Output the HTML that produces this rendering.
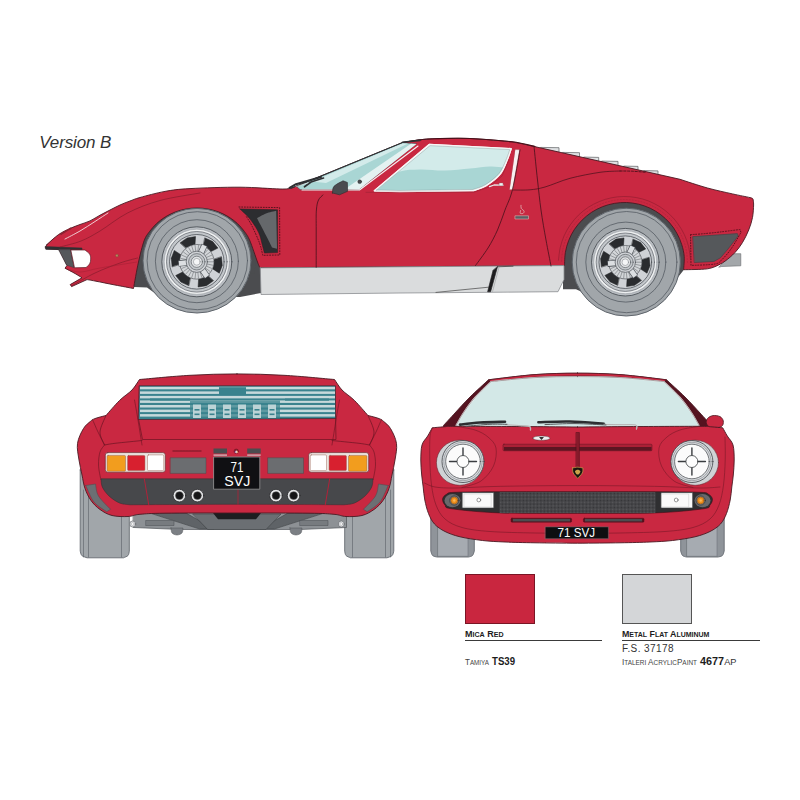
<!DOCTYPE html>
<html><head><meta charset="utf-8">
<style>
html,body{margin:0;padding:0;background:#fff;}
body{width:800px;height:800px;overflow:hidden;position:relative;font-family:"Liberation Sans",sans-serif;}
svg{position:absolute;left:0;top:0;display:block}
text{font-family:"Liberation Sans",sans-serif;}
</style></head><body>
<svg width="800" height="800" viewBox="0 0 800 800">
<defs><pattern id="mesh" width="1.1" height="1.1" patternUnits="userSpaceOnUse" patternTransform="rotate(45)"><rect width="1.1" height="1.1" fill="#58585b"/><rect width="0.55" height="0.55" fill="#343437"/><rect x="0.55" y="0.55" width="0.55" height="0.55" fill="#343437"/></pattern></defs>
<rect width="800" height="800" fill="#fff"/>
<g id="side" stroke-linejoin="round" stroke-linecap="round">
<polygon points="563,262 570,225 600,200 650,200 683,225 686,262 684.5,269 660,300 600,300 576,289.3 563,289.3" fill="#4b4c4f" stroke="none" stroke-width="1" />
<polygon points="685.2,268.9 685.4,259.6 684.3,250.4 681.8,241.5 677.9,233.1 672.9,225.3 666.7,218.4 659.5,212.6 651.6,207.8 643,204.4 634,202.2 624.7,201.5 615.5,202.2 606.5,204.2 597.8,207.6 589.8,212.3 582.6,218.1 576.4,225 571.3,232.7 567.4,241.1 564.8,250 563.6,259.2 563.8,268.4 565.4,277.6 568.3,286.3" fill="#4b4c4f" stroke="none" stroke-width="1" />
<polygon points="134,262 150,225 250,225 262,262 261,293 240,297 160,297 147,287.5 134,287" fill="#4b4c4f" stroke="none" stroke-width="1" />
<polygon points="254.2,273.4 255.4,265.4 255.3,257.2 253.9,249.2 251.2,241.4 247.4,234.1 242.5,227.4 236.5,221.4 229.7,216.4 222.2,212.4 214.1,209.4 205.6,207.6 197,207 188.4,207.6 179.9,209.4 171.8,212.4 164.3,216.4 157.5,221.4 151.5,227.4 146.6,234.1 142.8,241.4 140.1,249.2 138.7,257.2 138.6,265.4 139.8,273.4" fill="#4b4c4f" stroke="none" stroke-width="1" />
<polygon points="719,267 731,255 734,253.7 740.8,253.7 740.8,265.8 722,266.5" fill="#a3a7aa" stroke="#666a6d" stroke-width="0.6" />
<polygon points="541,147.4 559,147.7 559,152.8 541,148.7" fill="#dfe1e3" stroke="#5a5d60" stroke-width="0.7" />
<polygon points="563,152.4 579.5,152.7 579.5,157.4 563,153.7" fill="#dfe1e3" stroke="#5a5d60" stroke-width="0.7" />
<polygon points="584,157.1 598.7,157.4 598.7,161.7 584,158.4" fill="#dfe1e3" stroke="#5a5d60" stroke-width="0.7" />
<polygon points="602,161.1 618,161.4 618,166.1 602,162.4" fill="#dfe1e3" stroke="#5a5d60" stroke-width="0.7" />
<polygon points="624,166.1 638,166.4 638,170.6 624,167.4" fill="#dfe1e3" stroke="#5a5d60" stroke-width="0.7" />
<polygon points="644,170.6 658,170.9 658,175.1 644,171.9" fill="#dfe1e3" stroke="#5a5d60" stroke-width="0.7" />
<path d="M47 244.5C48.9 242.8 54.7 237.3 58.5 234.6C62.3 231.9 66.4 230.2 70 228.5C73.6 226.8 76.7 225.8 80 224.5C83.3 223.2 86.7 222.5 90 220.9C93.3 219.3 96.7 217 100 215.2C103.3 213.4 106.7 211.7 110 210C113.3 208.3 116.7 206.5 120 205C123.3 203.5 126.7 202.2 130 201C133.3 199.8 134.2 199.1 140 197.5C145.8 195.9 156.7 192.9 165 191.4C173.3 189.9 177.5 189.3 190 188.6C202.5 187.9 225 187.1 240 187.2C255 187.3 271.5 188.8 280 189C288.5 189.2 289.2 188.4 291 188.3L402.5 142.5C405.4 142.1 414.6 140.4 420 139.8C425.4 139.2 426.7 138.9 435 138.7C443.3 138.5 457.2 138 470 138.5C482.8 139 505 141.2 512 141.8L520 143.3L680 179.3C684.6 180.8 698.8 185.6 707.5 188C716.2 190.4 725.4 192.3 732.5 193.9C739.6 195.5 746.6 196.8 750 197.6C753.4 198.4 752.5 198.8 753 199C753.1 200 753.7 201.9 753.6 205C753.5 208.1 753.3 213.3 752.5 217.5C751.7 221.7 750.4 225.8 748.7 230C747 234.2 744.8 238.8 742.5 242.5C740.2 246.2 737.9 249.4 735 252.5C732.1 255.6 728.2 258.9 725 261.2C721.8 263.5 718.9 264.9 716 266.2C713.1 267.5 711 268.2 707.5 268.8C704 269.4 699 269.4 695 269.5C691 269.6 685.5 269.7 683.6 269.7C683.7 267.5 684.5 260.7 684.2 256.5C683.9 252.3 682.9 248.3 681.7 244.5C680.5 240.6 678.8 236.7 676.8 233.2C674.9 229.6 672.5 226.2 669.8 223.1C667.1 220.1 664.1 217.2 660.8 214.7C657.6 212.3 654 210.1 650.3 208.3C646.7 206.6 642.7 205.2 638.8 204.2C634.8 203.3 630.7 202.7 626.6 202.5C622.5 202.4 618.4 202.7 614.3 203.4C610.3 204.1 606.3 205.2 602.5 206.7C598.7 208.2 595 210.1 591.6 212.3C588.2 214.6 585 217.2 582.1 220.1C579.2 223 576.6 226.2 574.3 229.6C572.1 233 570.2 236.7 568.7 240.5C567.2 244.3 566.1 248.2 565.4 252.3C564.7 256.5 564.6 263.4 564.5 265.6L260 267.8C259.6 266.8 259.2 266.5 257.5 262C255.8 257.5 252 245.8 249.9 240.8C247.7 235.7 246.6 234.5 244.5 231.6C242.4 228.7 240 226 237.4 223.5C234.7 221.1 231.8 218.8 228.7 216.9C225.6 215 222.2 213.4 218.8 212C215.4 210.7 211.7 209.7 208.1 209C204.5 208.3 200.7 208 197 208C193.3 208 189.5 208.3 185.9 209C182.3 209.7 178.6 210.7 175.2 212C171.8 213.4 168.4 215 165.3 216.9C162.2 218.8 159.3 221.1 156.6 223.5C154 226 151.6 228.7 149.5 231.6C147.4 234.5 146 235.7 144.1 240.8C142.3 245.8 140.3 254 138.5 262C136.7 270 134.3 284.1 133.5 288.5C130.4 287.9 121.4 286.2 115 285C108.6 283.8 99.7 281.9 95 281C90.3 280.1 88.3 279.8 87 279.6L71.6 286.6L70.2 284.6L82 277.8C80.8 277.1 77.8 275.1 75 273.5C72.2 271.9 66.7 269.1 65 268.2L67 265.5L59 249.6L46 249L45.5 247L47 244.5Z" fill="#c92841" stroke="#4a1a22" stroke-width="0.9" />
<path d="M402.5 142.5C405.4 142.1 414.6 140.4 420 139.8C425.4 139.2 426.7 138.9 435 138.7C443.3 138.5 457.2 138 470 138.5C482.8 139 501.2 140.5 512 141.8C522.8 143.1 531.2 145.7 535 146.5" fill="none" stroke="#4a0f19" stroke-width="1.1" />
<polygon points="45.4,246.6 82,248 82,249.8 46,249.3" fill="#2f3033" stroke="#2f3033" stroke-width="0.5" />
<polygon points="58.8,249.6 70.6,249.6 73.9,267.6 66.9,265.2" fill="#55585b" stroke="#3b3d40" stroke-width="0.5" />
<path d="M70.8 250L85 250C85.8 250.7 88.6 252.5 89.6 254C90.5 255.5 90.7 257.3 90.7 259C90.7 260.7 90.4 262.6 89.6 264C88.8 265.4 86.6 266.9 86 267.5L74.5 267.8L70.8 250Z" fill="#fff" stroke="#5b1a24" stroke-width="0.7" />
<path d="M65 239C67.5 237.7 75 233.9 80 231C85 228.1 90.3 224.5 95 221.5C99.7 218.5 105.8 214.4 108 213" fill="none" stroke="#f4dfe2" stroke-width="0.9" />
<path d="M60 247C63.5 246 74.3 243.7 81 241C87.7 238.3 92.2 235.7 100 231C107.8 226.3 117.5 218.1 127.5 213C137.5 207.9 147.9 203.8 160 200.5C172.1 197.2 193.3 194.2 200 193" fill="none" stroke="#7c1a29" stroke-width="0.6" />
<path d="M61 234.3C61.8 233.8 64.3 232 66 231C67.7 230 70.2 228.8 71 228.3" fill="none" stroke="#8b2332" stroke-width="1.6" />
<path d="M71.5 286C75.4 283.8 86.9 276.8 95 273C103.1 269.2 112.9 265.5 120 263C127.1 260.5 134.6 258.8 137.5 258" fill="none" stroke="#7c1a29" stroke-width="0.6" />
<path d="M66 268.5C68.3 269.1 74.3 272.1 80 272C85.7 271.9 90.5 269.7 100 268C109.5 266.3 130.8 263 137 262" fill="none" stroke="#a01f33" stroke-width="0.5" />
<circle cx="117" cy="255.6" r="1.4" fill="#b98a62" stroke="#7c4a30" stroke-width="0.4" />
<path d="M260.3 267.9L564 265.6L564 279.5L558 291.7L490 292.3L400 293L261 294.5L260.3 267.9Z" fill="#dadcdd" stroke="#8a8d90" stroke-width="0.8" />
<polygon points="497.5,266.8 490.6,291.8 487.6,291.8 493,270.5" fill="#1c1c1e" stroke="#1c1c1e" stroke-width="0.6" />
<polyline points="497.5,266.8 513,266.2" fill="none" stroke="#333" stroke-width="0.7" />
<polyline points="436,292.4 488.5,287.2" fill="none" stroke="#444" stroke-width="0.7" />
<polyline points="499,267.3 492.6,291.4" fill="none" stroke="#9a9da0" stroke-width="0.6" />
<polygon points="300,189.4 296.5,186.6 402.5,142.7 416.5,143.7 359,189.6" fill="#a9d6d4" stroke="#33474a" stroke-width="0.5" />
<polygon points="312,181.5 402.5,143.6 408,143.6 326,183" fill="#d3ebea" stroke="none" stroke-width="1" />
<polygon points="345,189 411,143.7 416.5,143.9 359,189.4" fill="#e4f2f1" stroke="none" stroke-width="1" />
<polyline points="291,188.3 402.5,142.6" fill="none" stroke="#2d3335" stroke-width="1.0" />
<polyline points="402.5,142.3 420,140.4" fill="none" stroke="#2d3335" stroke-width="1.6" />
<polyline points="302,190 359.5,190 418,146" fill="none" stroke="#f3f3f3" stroke-width="1.1" />
<path d="M374.5 190.8L429.3 144.6L511 148.8C510.3 150.7 508.8 155.8 507 160C505.2 164.2 503.5 169.8 500 174C496.5 178.2 490.4 182.8 486 185.5C481.6 188.2 475.6 189.6 473.5 190.4L400 191.4L374.5 190.8Z" fill="#d3ebea" stroke="#f5f5f5" stroke-width="1.6" />
<path d="M386 181C388.3 179.4 394.3 173.4 400 171.5C405.7 169.6 412.5 169.7 420 169.5C427.5 169.3 436.7 170.7 445 170.5C453.3 170.3 462.5 169.2 470 168.5C477.5 167.8 484.4 166.7 490 166.5C495.6 166.3 501.2 167.3 503.5 167.5C502.9 168.6 502.9 171 500 174C497.1 177 490.4 182.9 486 185.5C481.6 188.1 475.6 188.9 473.5 189.6L400 190.6L375.8 190.2L386 181Z" fill="#a9d6d4" stroke="none" stroke-width="0" />
<path d="M374.5 190.8L429.3 144.6L511 148.8C510.3 150.7 508.8 155.8 507 160C505.2 164.2 503.5 169.8 500 174C496.5 178.2 490.4 182.8 486 185.5C481.6 188.2 475.6 189.6 473.5 190.4L400 191.4L374.5 190.8Z" fill="none" stroke="#f6f6f6" stroke-width="1.7" />
<path d="M376.5 190L430 145.6L509.8 149.6C509.2 151.3 507.8 156 506 160C504.2 164 502.4 169.4 499 173.5C495.6 177.6 489.8 181.9 485.5 184.6C481.2 187.3 475.1 188.7 473 189.5L400 190.5L376.5 190Z" fill="none" stroke="#7d8f92" stroke-width="0.4" />
<polygon points="515.3,149.5 519.7,149.8 512.7,189.6 509.6,189.7" fill="#f6f1f1" stroke="#a8505c" stroke-width="0.4" />
<polyline points="366,192.3 474,192.2 489,187 502,176 509,160" fill="none" stroke="#8f1f30" stroke-width="0.5" />
<path d="M332.5 193C332.8 191.9 332.2 188.3 334 186.3C335.8 184.3 341.5 181.7 343 180.8L347.4 182.4L347.6 191.3L339.5 194.8L332.5 193Z" fill="#4a4c50" stroke="#2b2c2f" stroke-width="0.6" />
<circle cx="359.7" cy="181.7" r="1.9" fill="#4a4c50" stroke="#222" stroke-width="0.4" />
<polyline points="289.5,187.8 296,184.2 321,177" fill="none" stroke="#2d2f32" stroke-width="2.0" />
<polyline points="304.5,186.8 311,182 323.5,178" fill="none" stroke="#2d2f32" stroke-width="1.7" />
<polyline points="296,186.5 308,183" fill="none" stroke="#e9e9e9" stroke-width="0.6" />
<path d="M323 195C322.2 195.8 319.6 197.5 318.5 200C317.4 202.5 316.8 205 316.4 210C316 215 316.2 220.4 316.2 230C316.2 239.6 316.2 261.1 316.2 267.3" fill="none" stroke="#45101a" stroke-width="0.8" />
<path d="M520 149.8C518.8 156.4 515 179.5 512.5 189.5C510 199.5 507.5 203.2 505 210C502.5 216.8 500.3 223.7 497.5 230C494.7 236.3 491.7 242.1 488 248C484.3 253.9 477.6 262.6 475.5 265.5" fill="none" stroke="#45101a" stroke-width="0.8" />
<path d="M534 146.2C534.6 151.8 536.3 169.4 537.5 180C538.7 190.6 539.6 200 541 210C542.4 220 544.3 230.7 546 240C547.7 249.3 550.2 261.7 551 266" fill="none" stroke="#45101a" stroke-width="0.8" />
<path d="M513 190C515.8 190 524.7 190.3 530 189.8C535.3 189.3 538.3 188.9 545 187C551.7 185.1 560.8 180.8 570 178.3C579.2 175.9 591.7 173.5 600 172.3C608.3 171.1 616.7 171.2 620 171" fill="none" stroke="#45101a" stroke-width="0.7" />
<path d="M620 171C622 171 627.7 171 632 171.2C636.3 171.4 643.7 172.1 646 172.3" fill="none" stroke="#45101a" stroke-width="0.9" stroke-dasharray="2.2 1.6"/>
<path d="M690.4 259C690.1 257 689.6 250.7 688.6 246.6C687.6 242.6 686.1 238.5 684.4 234.7C682.6 231 680.5 227.3 678 223.9C675.6 220.5 672.8 217.3 669.7 214.4C666.7 211.6 663.3 209 659.8 206.7C656.3 204.5 652.4 202.6 648.6 201C644.7 199.5 640.6 198.3 636.5 197.6C632.4 196.8 628.1 196.5 623.9 196.5C619.7 196.5 615.5 197 611.4 197.8C607.3 198.6 603.2 199.9 599.4 201.5C595.5 203.1 591.7 205.1 588.3 207.3C584.8 209.6 581.4 212.3 578.4 215.2C575.5 218.1 572.7 221.4 570.3 224.8C567.9 228.2 565.8 232 564.1 235.8C562.5 239.6 561.1 243.7 560.2 247.7C559.2 251.8 558.8 258.1 558.5 260.2" fill="none" stroke="#8d1b2d" stroke-width="0.6" />
<path d="M687.5 262.5C687.3 260.5 687.1 254.2 686.3 250.2C685.5 246.2 684.3 242.2 682.7 238.4C681.1 234.6 679.2 230.9 676.9 227.5C674.6 224.1 671.9 220.8 669 218C666.2 215.1 662.9 212.4 659.5 210.1C656.1 207.8 652.4 205.9 648.6 204.3C644.8 202.7 640.8 201.5 636.8 200.7C632.8 199.9 628.6 199.5 624.5 199.5C620.4 199.5 616.2 199.9 612.2 200.7C608.2 201.5 604.2 202.7 600.4 204.3C596.6 205.9 592.9 207.8 589.5 210.1C586.1 212.4 582.8 215.1 580 218C577.1 220.8 574.4 224.1 572.1 227.5C569.8 230.9 567.9 234.6 566.3 238.4C564.7 242.2 563.5 246.2 562.7 250.2C561.9 254.2 561.7 260.5 561.5 262.5" fill="none" stroke="#a32036" stroke-width="0.5" stroke-dasharray="1.2 1.8"/>
<polyline points="489.5,186.6 494,185 503,185.2" fill="none" stroke="#e6e6e6" stroke-width="1.3" />
<rect x="499.3" y="183" width="3.6" height="2.6" fill="#f2f2f2" stroke="#777" stroke-width="0.3" />
<path d="M521 205.3C521 205.8 520.8 207.6 521.3 208.5C521.8 209.4 523.7 210.2 524 211C524.3 211.8 523.8 212.9 523.2 213.3C522.6 213.7 520.7 213.8 520.3 213.3C519.9 212.8 520.5 211 520.6 210.5" fill="none" stroke="#e3c9c4" stroke-width="0.7" />
<rect x="515.3" y="215.8" width="13.2" height="3.2" fill="#5c5f63" stroke="#e3c9c4" stroke-width="0.5" />
<path d="M240 209L277.5 209.8L277.6 252.6L264.4 253.1C264 251.8 263.3 248.4 262.3 245C261.3 241.6 260.7 236.8 258.6 232.5C256.6 228.2 253.1 222.9 250 219C246.9 215.1 241.7 210.7 240 209Z" fill="#2c2d30" stroke="#222" stroke-width="0.5" />
<path d="M257 218.2C258.5 217.4 262.8 214.7 266 213.5C269.2 212.3 274.5 211.2 276.2 210.8L277 248.8L272 247.4C271.1 245.5 268.2 239.7 266.3 236C264.4 232.3 262.2 228 260.6 225C259.1 222 257.6 219.3 257 218.2Z" fill="#65686b" stroke="none" stroke-width="0" />
<path d="M239 207L279.6 207.6L279.8 255L262.8 255.3C262.2 253.2 261.3 247.9 259.5 243C257.7 238.1 254.2 230.5 252 226C249.8 221.5 247 217.7 246 216" fill="none" stroke="#5d121e" stroke-width="1.0" stroke-dasharray="1 1.7"/>
<polygon points="693,236.6 737.4,233.6 738.2,236 728,249 720.5,257.8 714,261.4 694.5,262.6" fill="#55585b" stroke="#3e4043" stroke-width="0.6" />
<path d="M690.6 234.6C692.2 234.5 695.1 234.4 700 234C704.9 233.6 713.3 232.8 720 232C726.7 231.2 736.7 229.9 740 229.5L741 232.5C739.3 235.2 734.2 244.5 731 249C727.8 253.5 724.7 257 722 259.5C719.3 262 720.2 263 715 264C709.8 265 695 265.2 691 265.4L690.6 235" fill="none" stroke="#5d121e" stroke-width="1.0" stroke-dasharray="1 1.7"/>
<ellipse cx="197" cy="260.7" rx="54" ry="52.3" fill="#a1a6aa" stroke="#5f656c" stroke-width="1.0"/>
<ellipse cx="197.3" cy="260.7" rx="50.2" ry="49" fill="none" stroke="#565c63" stroke-width="0.8"/>
<ellipse cx="196.9" cy="261.2" rx="41.5" ry="41.5" fill="none" stroke="#565c63" stroke-width="0.8"/>
<circle cx="196.8" cy="261.8" r="35" fill="#b9bdc2" stroke="#4d5258" stroke-width="0.9" />
<circle cx="196.8" cy="261.8" r="32.6" fill="#eef0f1" stroke="#8d9298" stroke-width="0.5" />
<circle cx="196.8" cy="261.8" r="30.3" fill="#c3c7cb" stroke="#5d6268" stroke-width="0.7" />
<circle cx="196.8" cy="261.8" r="27.3" fill="#cfd2d6" stroke="#4d5258" stroke-width="0.8" />
<polygon points="221.5,257 222.3,265.4 219.3,273.2 212.8,268.9 214.1,259.4" fill="#2a2c2f" stroke="#1d1e20" stroke-width="0.5" />
<polygon points="213.3,280.8 206.5,285.7 198.1,287 198.6,279.2 207.6,275.6" fill="#2a2c2f" stroke="#1d1e20" stroke-width="0.5" />
<polygon points="188.6,285.6 180.9,282.1 175.7,275.5 182.6,272.1 190.2,278" fill="#2a2c2f" stroke="#1d1e20" stroke-width="0.5" />
<polygon points="172.1,266.6 171.3,258.2 174.3,250.4 180.8,254.7 179.5,264.2" fill="#2a2c2f" stroke="#1d1e20" stroke-width="0.5" />
<polygon points="180.3,242.8 187.1,237.9 195.5,236.6 195,244.4 186,248" fill="#2a2c2f" stroke="#1d1e20" stroke-width="0.5" />
<polygon points="205,238 212.7,241.5 217.9,248.1 211,251.5 203.4,245.6" fill="#2a2c2f" stroke="#1d1e20" stroke-width="0.5" />
<circle cx="196.8" cy="261.8" r="17.3" fill="#d3d6d9" stroke="#3c4045" stroke-width="0.6" />
<polyline points="207.8,261.8 213.1,261.8" fill="none" stroke="#4a4e53" stroke-width="0.45" />
<polyline points="207.6,264.1 212.7,265.2" fill="none" stroke="#4a4e53" stroke-width="0.45" />
<polyline points="206.8,266.3 211.7,268.4" fill="none" stroke="#4a4e53" stroke-width="0.45" />
<polyline points="205.7,268.3 210,271.4" fill="none" stroke="#4a4e53" stroke-width="0.45" />
<polyline points="204.2,270 207.7,273.9" fill="none" stroke="#4a4e53" stroke-width="0.45" />
<polyline points="202.3,271.3 205,275.9" fill="none" stroke="#4a4e53" stroke-width="0.45" />
<polyline points="200.2,272.3 201.8,277.3" fill="none" stroke="#4a4e53" stroke-width="0.45" />
<polyline points="197.9,272.7 198.5,278" fill="none" stroke="#4a4e53" stroke-width="0.45" />
<polyline points="195.7,272.7 195.1,278" fill="none" stroke="#4a4e53" stroke-width="0.45" />
<polyline points="193.4,272.3 191.8,277.3" fill="none" stroke="#4a4e53" stroke-width="0.45" />
<polyline points="191.3,271.3 188.7,275.9" fill="none" stroke="#4a4e53" stroke-width="0.45" />
<polyline points="189.4,270 185.9,273.9" fill="none" stroke="#4a4e53" stroke-width="0.45" />
<polyline points="187.9,268.3 183.6,271.4" fill="none" stroke="#4a4e53" stroke-width="0.45" />
<polyline points="186.8,266.3 181.9,268.4" fill="none" stroke="#4a4e53" stroke-width="0.45" />
<polyline points="186,264.1 180.9,265.2" fill="none" stroke="#4a4e53" stroke-width="0.45" />
<polyline points="185.8,261.8 180.5,261.8" fill="none" stroke="#4a4e53" stroke-width="0.45" />
<polyline points="186,259.5 180.9,258.4" fill="none" stroke="#4a4e53" stroke-width="0.45" />
<polyline points="186.8,257.3 181.9,255.2" fill="none" stroke="#4a4e53" stroke-width="0.45" />
<polyline points="187.9,255.3 183.6,252.2" fill="none" stroke="#4a4e53" stroke-width="0.45" />
<polyline points="189.4,253.6 185.9,249.7" fill="none" stroke="#4a4e53" stroke-width="0.45" />
<polyline points="191.3,252.3 188.7,247.7" fill="none" stroke="#4a4e53" stroke-width="0.45" />
<polyline points="193.4,251.3 191.8,246.3" fill="none" stroke="#4a4e53" stroke-width="0.45" />
<polyline points="195.7,250.9 195.1,245.6" fill="none" stroke="#4a4e53" stroke-width="0.45" />
<polyline points="197.9,250.9 198.5,245.6" fill="none" stroke="#4a4e53" stroke-width="0.45" />
<polyline points="200.2,251.3 201.8,246.3" fill="none" stroke="#4a4e53" stroke-width="0.45" />
<polyline points="202.3,252.3 205,247.7" fill="none" stroke="#4a4e53" stroke-width="0.45" />
<polyline points="204.2,253.6 207.7,249.7" fill="none" stroke="#4a4e53" stroke-width="0.45" />
<polyline points="205.7,255.3 210,252.2" fill="none" stroke="#4a4e53" stroke-width="0.45" />
<polyline points="206.8,257.3 211.7,255.2" fill="none" stroke="#4a4e53" stroke-width="0.45" />
<polyline points="207.6,259.5 212.7,258.4" fill="none" stroke="#4a4e53" stroke-width="0.45" />
<line x1="196.8" y1="261.8" x2="207.4" y2="277" stroke="#4d5258" stroke-width="6.4" stroke-linecap="butt"/>
<line x1="196.8" y1="261.8" x2="207.1" y2="276.5" stroke="#dcdfe2" stroke-width="5" stroke-linecap="butt"/>
<line x1="196.8" y1="261.8" x2="178.4" y2="263.4" stroke="#4d5258" stroke-width="6.4" stroke-linecap="butt"/>
<line x1="196.8" y1="261.8" x2="178.9" y2="263.4" stroke="#dcdfe2" stroke-width="5" stroke-linecap="butt"/>
<line x1="196.8" y1="261.8" x2="204.6" y2="245" stroke="#4d5258" stroke-width="6.4" stroke-linecap="butt"/>
<line x1="196.8" y1="261.8" x2="204.4" y2="245.5" stroke="#dcdfe2" stroke-width="5" stroke-linecap="butt"/>
<circle cx="196.8" cy="261.8" r="10.6" fill="#d0d3d7" stroke="#4d5258" stroke-width="0.7" />
<circle cx="196.8" cy="261.8" r="8.2" fill="#c2c6ca" stroke="#4d5258" stroke-width="0.6" />
<circle cx="196.8" cy="261.8" r="5.6" fill="#e3e5e7" stroke="#4d5258" stroke-width="0.6" />
<circle cx="196.8" cy="261.8" r="3.4" fill="#f5f6f7" stroke="#777b80" stroke-width="0.5" />
<ellipse cx="626.3" cy="262.1" rx="54.1" ry="53.9" fill="#a1a6aa" stroke="#5f656c" stroke-width="1.0"/>
<ellipse cx="626.6" cy="262.1" rx="50.3" ry="50.6" fill="none" stroke="#565c63" stroke-width="0.8"/>
<ellipse cx="625.8" cy="262.1" rx="40" ry="40" fill="none" stroke="#565c63" stroke-width="0.8"/>
<circle cx="625.3" cy="262.2" r="33.8" fill="#b9bdc2" stroke="#4d5258" stroke-width="0.9" />
<circle cx="625.3" cy="262.2" r="31.5" fill="#eef0f1" stroke="#8d9298" stroke-width="0.5" />
<circle cx="625.3" cy="262.2" r="29.2" fill="#c3c7cb" stroke="#5d6268" stroke-width="0.7" />
<circle cx="625.3" cy="262.2" r="26.3" fill="#cfd2d6" stroke="#4d5258" stroke-width="0.8" />
<polygon points="649.2,257.6 650,265.7 647,273.2 640.7,269.1 642,259.8" fill="#2a2c2f" stroke="#1d1e20" stroke-width="0.5" />
<polygon points="641.3,280.6 634.6,285.3 626.6,286.5 627.1,279 635.7,275.5" fill="#2a2c2f" stroke="#1d1e20" stroke-width="0.5" />
<polygon points="617.4,285.2 610,281.8 604.9,275.4 611.6,272.1 619,277.9" fill="#2a2c2f" stroke="#1d1e20" stroke-width="0.5" />
<polygon points="601.4,266.8 600.6,258.7 603.6,251.2 609.9,255.3 608.6,264.6" fill="#2a2c2f" stroke="#1d1e20" stroke-width="0.5" />
<polygon points="609.3,243.8 616,239.1 624,237.9 623.5,245.4 614.9,248.9" fill="#2a2c2f" stroke="#1d1e20" stroke-width="0.5" />
<polygon points="633.2,239.2 640.6,242.6 645.7,249 639,252.3 631.6,246.5" fill="#2a2c2f" stroke="#1d1e20" stroke-width="0.5" />
<circle cx="625.3" cy="262.2" r="16.7" fill="#d3d6d9" stroke="#3c4045" stroke-width="0.6" />
<polyline points="635.9,262.2 641,262.2" fill="none" stroke="#4a4e53" stroke-width="0.45" />
<polyline points="635.7,264.4 640.7,265.5" fill="none" stroke="#4a4e53" stroke-width="0.45" />
<polyline points="635,266.5 639.7,268.6" fill="none" stroke="#4a4e53" stroke-width="0.45" />
<polyline points="633.9,268.4 638,271.4" fill="none" stroke="#4a4e53" stroke-width="0.45" />
<polyline points="632.4,270.1 635.8,273.9" fill="none" stroke="#4a4e53" stroke-width="0.45" />
<polyline points="630.6,271.4 633.2,275.8" fill="none" stroke="#4a4e53" stroke-width="0.45" />
<polyline points="628.6,272.3 630.2,277.2" fill="none" stroke="#4a4e53" stroke-width="0.45" />
<polyline points="626.4,272.8 626.9,277.8" fill="none" stroke="#4a4e53" stroke-width="0.45" />
<polyline points="624.2,272.8 623.7,277.8" fill="none" stroke="#4a4e53" stroke-width="0.45" />
<polyline points="622,272.3 620.4,277.2" fill="none" stroke="#4a4e53" stroke-width="0.45" />
<polyline points="620,271.4 617.4,275.8" fill="none" stroke="#4a4e53" stroke-width="0.45" />
<polyline points="618.2,270.1 614.8,273.9" fill="none" stroke="#4a4e53" stroke-width="0.45" />
<polyline points="616.7,268.4 612.6,271.4" fill="none" stroke="#4a4e53" stroke-width="0.45" />
<polyline points="615.6,266.5 610.9,268.6" fill="none" stroke="#4a4e53" stroke-width="0.45" />
<polyline points="614.9,264.4 609.9,265.5" fill="none" stroke="#4a4e53" stroke-width="0.45" />
<polyline points="614.7,262.2 609.6,262.2" fill="none" stroke="#4a4e53" stroke-width="0.45" />
<polyline points="614.9,260 609.9,258.9" fill="none" stroke="#4a4e53" stroke-width="0.45" />
<polyline points="615.6,257.9 610.9,255.8" fill="none" stroke="#4a4e53" stroke-width="0.45" />
<polyline points="616.7,256 612.6,253" fill="none" stroke="#4a4e53" stroke-width="0.45" />
<polyline points="618.2,254.3 614.8,250.5" fill="none" stroke="#4a4e53" stroke-width="0.45" />
<polyline points="620,253 617.4,248.6" fill="none" stroke="#4a4e53" stroke-width="0.45" />
<polyline points="622,252.1 620.4,247.2" fill="none" stroke="#4a4e53" stroke-width="0.45" />
<polyline points="624.2,251.6 623.7,246.6" fill="none" stroke="#4a4e53" stroke-width="0.45" />
<polyline points="626.4,251.6 626.9,246.6" fill="none" stroke="#4a4e53" stroke-width="0.45" />
<polyline points="628.6,252.1 630.2,247.2" fill="none" stroke="#4a4e53" stroke-width="0.45" />
<polyline points="630.6,253 633.2,248.6" fill="none" stroke="#4a4e53" stroke-width="0.45" />
<polyline points="632.4,254.3 635.8,250.5" fill="none" stroke="#4a4e53" stroke-width="0.45" />
<polyline points="633.9,256 638,253" fill="none" stroke="#4a4e53" stroke-width="0.45" />
<polyline points="635,257.9 639.7,255.8" fill="none" stroke="#4a4e53" stroke-width="0.45" />
<polyline points="635.7,260 640.7,258.9" fill="none" stroke="#4a4e53" stroke-width="0.45" />
<line x1="625.3" y1="262.2" x2="635.5" y2="276.8" stroke="#4d5258" stroke-width="6.2" stroke-linecap="butt"/>
<line x1="625.3" y1="262.2" x2="635.3" y2="276.4" stroke="#dcdfe2" stroke-width="4.8" stroke-linecap="butt"/>
<line x1="625.3" y1="262.2" x2="607.5" y2="263.8" stroke="#4d5258" stroke-width="6.2" stroke-linecap="butt"/>
<line x1="625.3" y1="262.2" x2="608" y2="263.7" stroke="#dcdfe2" stroke-width="4.8" stroke-linecap="butt"/>
<line x1="625.3" y1="262.2" x2="632.8" y2="246" stroke="#4d5258" stroke-width="6.2" stroke-linecap="butt"/>
<line x1="625.3" y1="262.2" x2="632.6" y2="246.5" stroke="#dcdfe2" stroke-width="4.8" stroke-linecap="butt"/>
<circle cx="625.3" cy="262.2" r="10.2" fill="#d0d3d7" stroke="#4d5258" stroke-width="0.7" />
<circle cx="625.3" cy="262.2" r="7.9" fill="#c2c6ca" stroke="#4d5258" stroke-width="0.6" />
<circle cx="625.3" cy="262.2" r="5.4" fill="#e3e5e7" stroke="#4d5258" stroke-width="0.6" />
<circle cx="625.3" cy="262.2" r="3.3" fill="#f5f6f7" stroke="#777b80" stroke-width="0.5" />
</g>
<g id="rear" stroke-linejoin="round" stroke-linecap="round">
<path d="M80.2 470L129.3 470L129.3 551C129.1 551.8 129 554.4 128 555.5C127 556.6 124.2 557.4 123.5 557.8L87 557.8C86.1 557.4 82.9 556.6 81.8 555.5C80.7 554.4 80.5 551.8 80.2 551L80.2 470Z" fill="#a1a6aa" stroke="#646a71" stroke-width="0.9" />
<path d="M393.8 470L344.7 470L344.7 551C344.9 551.8 345 554.4 346 555.5C347 556.6 349.8 557.4 350.5 557.8L387 557.8C387.9 557.4 391.1 556.6 392.2 555.5C393.3 554.4 393.5 551.8 393.8 551L393.8 470Z" fill="#a1a6aa" stroke="#646a71" stroke-width="0.9" />
<polyline points="83.5,490 83.5,557" fill="none" stroke="#646a71" stroke-width="0.7" />
<polyline points="390.5,490 390.5,557" fill="none" stroke="#646a71" stroke-width="0.7" />
<polyline points="88.5,490 88.5,557" fill="none" stroke="#646a71" stroke-width="0.7" />
<polyline points="385.5,490 385.5,557" fill="none" stroke="#646a71" stroke-width="0.7" />
<polyline points="121.5,490 121.5,557" fill="none" stroke="#646a71" stroke-width="0.7" />
<polyline points="352.5,490 352.5,557" fill="none" stroke="#646a71" stroke-width="0.7" />
<polygon points="133.5,512 346.5,512 346.5,527.5 300,529.5 180,529.5 133.5,527.5" fill="#8d9195" stroke="#4f5358" stroke-width="0.7" />
<path d="M171 528C171.2 528.8 171 531.8 172 533C173 534.2 175.3 535 177 535C178.7 535 181 534.2 182 533C183 531.8 182.8 528.8 183 528L171 528Z" fill="#7b7f84" stroke="#4c5055" stroke-width="0.5" />
<path d="M290 528C290.2 528.8 290 531.8 291 533C292 534.2 294.3 535 296 535C297.7 535 300 534.2 301 533C302 531.8 301.8 528.8 302 528L290 528Z" fill="#7b7f84" stroke="#4c5055" stroke-width="0.5" />
<polygon points="150,513 186,513 214,529 200,529" fill="#5f6367" stroke="#3f4347" stroke-width="0.6" />
<polygon points="324,513 288,513 260,529 274,529" fill="#5f6367" stroke="#3f4347" stroke-width="0.6" />
<polygon points="193,514 281,514 266,529.5 208,529.5" fill="#6b6f73" stroke="#3f4347" stroke-width="0.6" />
<polygon points="213,513 261,513 256,519.2 218,519.2" fill="#1d1e20" stroke="none" stroke-width="1" />
<rect x="146" y="520.5" width="28" height="5" fill="#777b7f" stroke="#4a4e53" stroke-width="0.5" />
<rect x="300" y="520.5" width="28" height="5" fill="#777b7f" stroke="#4a4e53" stroke-width="0.5" />
<circle cx="132.7" cy="524" r="3" fill="#e4e6e8" stroke="#55595e" stroke-width="0.6" />
<circle cx="132.7" cy="524" r="1.5" fill="#f6f6f6" stroke="#8a8e92" stroke-width="0.4" />
<circle cx="341.3" cy="524" r="3" fill="#e4e6e8" stroke="#55595e" stroke-width="0.6" />
<circle cx="341.3" cy="524" r="1.5" fill="#f6f6f6" stroke="#8a8e92" stroke-width="0.4" />
<path d="M237 373.9C221.3 373.9 206.2 374.4 190 375.3C173.8 376.2 147.9 378.8 139.5 379.5C138.2 381.2 135.3 386.5 132 390C128.7 393.5 123.8 396.2 119.5 400.5C115.2 404.8 108.2 413 106 415.5C104.8 415.8 101.1 416.7 99 417.3C96.9 417.9 94.9 418.5 93.5 419.2C92.1 419.9 92.2 419.8 90.5 421.3C88.8 422.9 85.7 424.8 83.5 428.5C81.3 432.2 78.2 438.2 77.5 443.5C76.8 448.8 78.2 454.8 79 460C79.8 465.2 81 470.2 82 475C83 479.8 83.5 484.2 85 488.5C86.5 492.8 88.5 497 91 500.5C93.5 504 96.5 507 100 509.5C103.5 512 107.3 514.3 112 515.5C116.7 516.7 123.3 516.7 128 516.5C132.7 516.3 133.8 514.8 140 514.3C146.2 513.8 148.8 513.4 165 513.2C181.2 513 213 513 237 513C261 513 292.8 513 309 513.2C325.2 513.4 327.8 513.8 334 514.3C340.2 514.8 341.3 516.3 346 516.5C350.7 516.7 357.3 516.7 362 515.5C366.7 514.3 370.5 512 374 509.5C377.5 507 380.5 504 383 500.5C385.5 497 387.5 492.8 389 488.5C390.5 484.2 391 479.8 392 475C393 470.2 394.2 465.2 395 460C395.8 454.8 397.2 448.8 396.5 443.5C395.8 438.2 392.7 432.2 390.5 428.5C388.3 424.8 385.2 422.9 383.5 421.3C381.8 419.8 381.9 419.9 380.5 419.2C379.1 418.5 377.1 417.9 375 417.3C372.9 416.7 369.2 415.8 368 415.5C365.8 413 358.8 404.8 354.5 400.5C350.2 396.2 345.3 393.5 342 390C338.7 386.5 335.8 381.2 334.5 379.5C326.1 378.8 300.2 376.2 284 375.3C267.8 374.4 252.7 373.9 237 373.9Z" fill="#c92841" stroke="#4a1a22" stroke-width="0.9" />
<polygon points="139.5,385.8 335.4,385.8 335.6,418.5 138.6,419.5" fill="#3a838e" stroke="#3a1a20" stroke-width="0.6" />
<rect x="140" y="386.8" width="195" height="2.5" fill="#c6d9db" stroke="none" stroke-width="1" />
<rect x="140" y="391.4" width="195" height="2.5" fill="#c6d9db" stroke="none" stroke-width="1" />
<rect x="140" y="395.9" width="195" height="2.5" fill="#c6d9db" stroke="none" stroke-width="1" />
<rect x="140" y="400.4" width="195" height="2.5" fill="#c6d9db" stroke="none" stroke-width="1" />
<rect x="140" y="405" width="195" height="2.5" fill="#c6d9db" stroke="none" stroke-width="1" />
<rect x="140" y="409.6" width="195" height="2.5" fill="#c6d9db" stroke="none" stroke-width="1" />
<rect x="140" y="414.1" width="195" height="2.5" fill="#c6d9db" stroke="none" stroke-width="1" />
<rect x="219" y="387.2" width="27" height="7" fill="#3a838e" stroke="none" stroke-width="1" />
<rect x="150" y="398.5" width="40" height="2.2" fill="#3a838e" stroke="none" stroke-width="1" />
<rect x="285" y="398.5" width="44" height="2.2" fill="#3a838e" stroke="none" stroke-width="1" />
<rect x="190" y="400.5" width="90" height="18" fill="#3a838e" stroke="none" stroke-width="0" opacity="0.75"/>
<rect x="193" y="404.5" width="8" height="13.5" fill="#bcd3d6" stroke="none" stroke-width="1" />
<rect x="194.5" y="409" width="5" height="1.6" fill="#3a838e" stroke="none" stroke-width="1" />
<rect x="194.5" y="413.5" width="5" height="1.6" fill="#3a838e" stroke="none" stroke-width="1" />
<rect x="208" y="404.5" width="8" height="13.5" fill="#bcd3d6" stroke="none" stroke-width="1" />
<rect x="209.5" y="409" width="5" height="1.6" fill="#3a838e" stroke="none" stroke-width="1" />
<rect x="209.5" y="413.5" width="5" height="1.6" fill="#3a838e" stroke="none" stroke-width="1" />
<rect x="223" y="404.5" width="8" height="13.5" fill="#bcd3d6" stroke="none" stroke-width="1" />
<rect x="224.5" y="409" width="5" height="1.6" fill="#3a838e" stroke="none" stroke-width="1" />
<rect x="224.5" y="413.5" width="5" height="1.6" fill="#3a838e" stroke="none" stroke-width="1" />
<rect x="238" y="404.5" width="8" height="13.5" fill="#bcd3d6" stroke="none" stroke-width="1" />
<rect x="239.5" y="409" width="5" height="1.6" fill="#3a838e" stroke="none" stroke-width="1" />
<rect x="239.5" y="413.5" width="5" height="1.6" fill="#3a838e" stroke="none" stroke-width="1" />
<rect x="253" y="404.5" width="8" height="13.5" fill="#bcd3d6" stroke="none" stroke-width="1" />
<rect x="254.5" y="409" width="5" height="1.6" fill="#3a838e" stroke="none" stroke-width="1" />
<rect x="254.5" y="413.5" width="5" height="1.6" fill="#3a838e" stroke="none" stroke-width="1" />
<rect x="268" y="404.5" width="8" height="13.5" fill="#bcd3d6" stroke="none" stroke-width="1" />
<rect x="269.5" y="409" width="5" height="1.6" fill="#3a838e" stroke="none" stroke-width="1" />
<rect x="269.5" y="413.5" width="5" height="1.6" fill="#3a838e" stroke="none" stroke-width="1" />
<polyline points="138.6,419.5 142.5,439.5 336,439.5 335.6,418.5" fill="none" stroke="#6a1422" stroke-width="0.7" />
<path d="M134.5 400C135.1 403.3 136.8 412.5 138 420C139.2 427.5 141.3 440.8 142 445" fill="none" stroke="#6a1422" stroke-width="0.6" />
<path d="M339.5 400C338.9 403.3 337.2 412.5 336 420C334.8 427.5 332.7 440.8 332 445" fill="none" stroke="#6a1422" stroke-width="0.6" />
<path d="M106 415.5C105 418.2 100.2 427.1 100 432C99.8 436.9 103.8 442.8 104.5 445C106.2 444.7 108.8 444.1 115 443.3C121.2 442.6 137.5 441 142 440.5" fill="none" stroke="#6a1422" stroke-width="0.7" />
<path d="M368 415.5C369 418.2 373.8 427.1 374 432C374.2 436.9 370.2 442.8 369.5 445C367.8 444.7 365.2 444.1 359 443.3C352.8 442.6 336.5 441 332 440.5" fill="none" stroke="#6a1422" stroke-width="0.7" />
<path d="M92.5 419.5C93.4 421.6 96 427.8 98 432C100 436.2 103.4 442.8 104.5 445" fill="none" stroke="#6a1422" stroke-width="0.6" />
<path d="M381.5 419.5C380.6 421.6 378 427.8 376 432C374 436.2 370.6 442.8 369.5 445" fill="none" stroke="#6a1422" stroke-width="0.6" />
<path d="M104.5 445C103.8 446.2 101 448.7 100 452C99 455.3 98.4 460.4 98.5 465C98.6 469.6 100.4 477.1 100.8 479.5" fill="none" stroke="#6a1422" stroke-width="0.6" />
<path d="M369.5 445C370.2 446.2 373 448.7 374 452C375 455.3 375.6 460.4 375.5 465C375.4 469.6 373.6 477.1 373.2 479.5" fill="none" stroke="#6a1422" stroke-width="0.6" />
<path d="M237 478.8C191.7 478.8 123.7 478.8 101 478.8C101.2 480.2 101 484.1 102.3 487C103.6 489.9 106.1 493.3 109 496C111.9 498.7 116 501.5 119.5 503C123 504.5 128.2 504.5 130 504.8C147.8 504.7 201.3 504.3 237 504.3C272.7 504.3 326.2 504.7 344 504.8C345.8 504.5 351 504.5 354.5 503C358 501.5 362.1 498.7 365 496C367.9 493.3 370.4 489.9 371.7 487C373 484.1 372.8 480.2 373 478.8C350.3 478.8 282.3 478.8 237 478.8Z" fill="#47484b" stroke="#2e2f31" stroke-width="0.5" />
<polyline points="144.3,478.8 148.7,504.6" fill="none" stroke="#b02239" stroke-width="1.0" />
<polyline points="329.7,478.8 325.3,504.6" fill="none" stroke="#b02239" stroke-width="1.0" />
<polyline points="238,489 238,504.3" fill="none" stroke="#b02239" stroke-width="0.8" />
<path d="M85.8 485.5L95.5 484C96 486 96 491.8 98.5 496C101 500.2 108.5 507.1 110.5 509.3L106.8 511.7C104.7 510.1 97.5 506.4 94 502C90.5 497.6 87.2 488.2 85.8 485.5Z" fill="#6c6f73" stroke="#4b4d50" stroke-width="0.5" />
<path d="M388.2 485.5L378.5 484C378 486 378 491.8 375.5 496C373 500.2 365.5 507.1 363.5 509.3L367.2 511.7C369.3 510.1 376.5 506.4 380 502C383.5 497.6 386.8 488.2 388.2 485.5Z" fill="#6c6f73" stroke="#4b4d50" stroke-width="0.5" />
<rect x="105.3" y="452.6" width="60" height="19.6" fill="#ece6e2" stroke="#6a2a30" stroke-width="0.7" rx="2.5"/>
<rect x="107.1" y="455.4" width="18.4" height="15.9" fill="#f29d1e" stroke="#8a4a3a" stroke-width="0.4" rx="1"/>
<rect x="127.6" y="455.4" width="17.3" height="15.2" fill="#d8202f" stroke="#8a4a3a" stroke-width="0.4" rx="1"/>
<rect x="147.5" y="454.9" width="16.2" height="15.7" fill="#ffffff" stroke="#8a4a3a" stroke-width="0.4" rx="1"/>
<rect x="308.7" y="452.6" width="60" height="19.6" fill="#ece6e2" stroke="#6a2a30" stroke-width="0.7" rx="2.5"/>
<rect x="348.5" y="455.4" width="18.4" height="15.9" fill="#f29d1e" stroke="#8a4a3a" stroke-width="0.4" rx="1"/>
<rect x="329.1" y="455.4" width="17.3" height="15.2" fill="#d8202f" stroke="#8a4a3a" stroke-width="0.4" rx="1"/>
<rect x="310.3" y="454.9" width="16.2" height="15.7" fill="#ffffff" stroke="#8a4a3a" stroke-width="0.4" rx="1"/>
<rect x="170.5" y="457.8" width="35.5" height="15.6" fill="#6b6d70" stroke="#4a4a4d" stroke-width="0.5" />
<rect x="268" y="457.8" width="35.5" height="15.6" fill="#6b6d70" stroke="#4a4a4d" stroke-width="0.5" />
<rect x="213.5" y="448.5" width="13.5" height="5" fill="#4b4c4f" stroke="none" stroke-width="1" />
<rect x="247.2" y="448.5" width="13.5" height="5" fill="#4b4c4f" stroke="none" stroke-width="1" />
<rect x="213.5" y="454.5" width="13.5" height="1.2" fill="#c9c9c9" stroke="none" stroke-width="1" />
<rect x="247.2" y="454.5" width="13.5" height="1.2" fill="#c9c9c9" stroke="none" stroke-width="1" />
<circle cx="236.3" cy="451.3" r="2.3" fill="#8a1a2a" stroke="#5a1018" stroke-width="0.4" />
<text x="236.3" y="453.6" font-size="5.500" fill="#f2dede" text-anchor="middle">✶</text>
<polyline points="173,451 201,451" fill="none" stroke="#8e1d2e" stroke-width="1.4" stroke-dasharray="2.4 0.8"/>
<rect x="214" y="457" width="45.8" height="32.2" fill="#101013" stroke="#8a8a8a" stroke-width="0.9" />
<text x="230.4" y="471.7" font-size="15.3" fill="#fff" textLength="13" lengthAdjust="spacingAndGlyphs">71</text>
<text x="224.3" y="485.9" font-size="15.3" fill="#fff" textLength="26" lengthAdjust="spacingAndGlyphs">SVJ</text>
<circle cx="179.4" cy="495.6" r="6.3" fill="#e4e5e7" stroke="#2a2a2c" stroke-width="0.8" />
<circle cx="179.4" cy="495.6" r="3.9" fill="#151517" stroke="#555" stroke-width="0.5" />
<circle cx="197.4" cy="495.6" r="6.3" fill="#e4e5e7" stroke="#2a2a2c" stroke-width="0.8" />
<circle cx="197.4" cy="495.6" r="3.9" fill="#151517" stroke="#555" stroke-width="0.5" />
<circle cx="276" cy="495.6" r="6.3" fill="#e4e5e7" stroke="#2a2a2c" stroke-width="0.8" />
<circle cx="276" cy="495.6" r="3.9" fill="#151517" stroke="#555" stroke-width="0.5" />
<circle cx="293.6" cy="495.6" r="6.3" fill="#e4e5e7" stroke="#2a2a2c" stroke-width="0.8" />
<circle cx="293.6" cy="495.6" r="3.9" fill="#151517" stroke="#555" stroke-width="0.5" />
</g>
<g id="front" stroke-linejoin="round" stroke-linecap="round">
<path d="M430.8 500L474.3 500L474.3 551C474 551.8 473.5 554.5 472.5 555.5C471.5 556.5 469.2 556.8 468.5 557L437 557C436.3 556.8 433.6 556.5 432.6 555.5C431.6 554.5 431.1 551.8 430.8 551L430.8 500Z" fill="#8f949a" stroke="#646a71" stroke-width="0.9" />
<path d="M724.2 500L680.7 500L680.7 551C681 551.8 681.5 554.5 682.5 555.5C683.5 556.5 685.8 556.8 686.5 557L718 557C718.7 556.8 721.4 556.5 722.4 555.5C723.4 554.5 723.9 551.8 724.2 551L724.2 500Z" fill="#8f949a" stroke="#646a71" stroke-width="0.9" />
<rect x="438" y="500" width="30" height="56.3" fill="#a6abb1" stroke="#646a71" stroke-width="0.5" />
<rect x="687" y="500" width="30" height="56.3" fill="#a6abb1" stroke="#646a71" stroke-width="0.5" />
<path d="M577.5 373.2C563.3 373.2 549.8 373.5 535 374.6C520.2 375.7 496.2 378.9 488.5 379.8C485.4 382.7 475.6 391.5 470 397C464.4 402.5 459.4 408.2 455 413C450.6 417.8 445.4 423.4 443.5 425.5L443.5 430C465.8 430 532.8 430 577.5 430C622.2 430 689.2 430 711.5 430L711.5 425.5C709.6 423.4 704.4 417.8 700 413C695.6 408.2 690.6 402.5 685 397C679.4 391.5 669.6 382.7 666.5 379.8C658.8 378.9 634.8 375.7 620 374.6C605.2 373.5 591.7 373.2 577.5 373.2Z" fill="#551320" stroke="#4a1a22" stroke-width="0.9" />
<path d="M577.5 373.2C563.3 373.2 549.8 373.5 535 374.6C520.2 375.7 496.2 378.9 488.5 379.8L491 381.6C498.3 380.9 520.6 378.1 535 377.2C549.4 376.3 563.3 376 577.5 376C591.7 376 605.6 376.3 620 377.2C634.4 378.1 656.7 380.9 664 381.6L666.5 379.8C658.8 378.9 634.8 375.7 620 374.6C605.2 373.5 591.7 373.2 577.5 373.2Z" fill="#c92841" stroke="#4a1a22" stroke-width="0.6" />
<path d="M577.5 376.6C563.3 376.6 549.4 376.8 535 377.6C520.6 378.4 498.3 380.9 491 381.6C488.3 384.2 479.7 392.2 475 397.5C470.3 402.8 466.2 408.8 463 413.5C459.8 418.2 457.2 423.5 456 425.5L456 428.5C476.2 428.5 537 428.5 577.5 428.5C618 428.5 678.8 428.5 699 428.5L699 425.5C697.8 423.5 695.2 418.2 692 413.5C688.8 408.8 684.7 402.8 680 397.5C675.3 392.2 666.7 384.2 664 381.6C656.7 380.9 634.4 378.4 620 377.6C605.6 376.8 591.7 376.6 577.5 376.6Z" fill="#d3e8e7" stroke="#f4f4f4" stroke-width="1.3" />
<path d="M577.5 376.6C563.3 376.6 549.4 376.8 535 377.6C520.6 378.4 498.3 380.9 491 381.6C488.3 384.2 479.7 392.2 475 397.5C470.3 402.8 466.2 408.8 463 413.5C459.8 418.2 457.2 423.5 456 425.5L456 428.5C476.2 428.5 537 428.5 577.5 428.5C618 428.5 678.8 428.5 699 428.5L699 425.5C697.8 423.5 695.2 418.2 692 413.5C688.8 408.8 684.7 402.8 680 397.5C675.3 392.2 666.7 384.2 664 381.6C656.7 380.9 634.4 378.4 620 377.6C605.6 376.8 591.7 376.6 577.5 376.6Z" fill="none" stroke="#3b2328" stroke-width="0.4" />
<path d="M706.5 424C705.8 422.4 706.4 419.9 707.5 418.5C708.6 417.1 710.9 415.9 713 415.6C715.1 415.3 718.3 415.7 720 416.6C721.7 417.5 723 419.4 723.3 421C723.5 422.6 723.4 425.3 721.5 426.5C719.6 427.7 714.5 428.4 712 428C709.5 427.6 707.2 425.6 706.5 424Z" fill="#c92841" stroke="#4a1a22" stroke-width="0.8" />
<path d="M577.5 427C561.7 427 550.2 426.7 530 426.6C509.8 426.5 470.3 426.3 456 426.3C441.7 426.3 447.9 426.6 444 426.8C440.1 427.1 434.2 427.6 432.3 427.8C431.5 429.2 429.4 433.1 427.7 436C426 438.9 423.1 441 422 445C420.9 449 420.9 455 420.8 460C420.8 465 421.3 470.5 421.7 475C422.1 479.5 422.7 482.8 423.2 487C423.7 491.2 423.9 495.6 424.8 500C425.7 504.4 426.9 509.5 428.5 513.5C430.1 517.5 431.8 521 434.5 524C437.2 527 440.8 529.4 445 531.5C449.2 533.6 453.8 535.3 460 536.8C466.2 538.3 475 539.6 482.5 540.5C490 541.4 496.2 541.6 505 542C513.8 542.4 522.9 542.6 535 542.8C547.1 543 563.3 543.2 577.5 543.2C591.7 543.2 607.9 543 620 542.8C632.1 542.6 641.2 542.4 650 542C658.8 541.6 665 541.4 672.5 540.5C680 539.6 688.8 538.3 695 536.8C701.2 535.3 705.8 533.6 710 531.5C714.2 529.4 717.8 527 720.5 524C723.2 521 724.9 517.5 726.5 513.5C728.1 509.5 729.3 504.4 730.2 500C731.1 495.6 731.3 491.2 731.8 487C732.3 482.8 732.9 479.5 733.3 475C733.7 470.5 734.2 465 734.2 460C734.2 455 734.1 449 733 445C731.9 441 729 438.9 727.3 436C725.6 433.1 723.5 429.2 722.7 427.8C720.8 427.6 715 427.1 711 426.8C707 426.6 713.3 426.3 699 426.3C684.7 426.3 645.2 426.5 625 426.6C604.8 426.7 593.3 427 577.5 427Z" fill="#c92841" stroke="#4a1a22" stroke-width="0.9" />
<path d="M432.3 427.8C431.9 429.3 430.4 431.6 430 437C429.6 442.4 429.6 452 429.8 460C430.1 468 430.5 477.5 431.5 485C432.5 492.5 433.8 499.3 436 505C438.2 510.7 440.7 515.2 445 519C449.3 522.8 454.5 525.4 462 527.5C469.5 529.6 477.8 530.6 490 531.5C502.2 532.4 520.4 532.7 535 533C549.6 533.3 563.3 533.3 577.5 533.3C591.7 533.3 605.4 533.3 620 533C634.6 532.7 652.8 532.4 665 531.5C677.2 530.6 685.5 529.6 693 527.5C700.5 525.4 705.7 522.8 710 519C714.3 515.2 716.8 510.7 719 505C721.2 499.3 722.5 492.5 723.5 485C724.5 477.5 725 468 725.2 460C725.5 452 725 440.8 725 437" fill="none" stroke="#6a1422" stroke-width="0.5" />
<path d="M424.5 483C426.2 483.7 429.9 486.2 435 487C440.1 487.8 445.8 488.1 455 488C464.2 487.9 476.7 487 490 486.6C503.3 486.2 520.4 486 535 485.8C549.6 485.6 563.3 485.6 577.5 485.6C591.7 485.6 605.4 485.6 620 485.8C634.6 486 651.7 486.2 665 486.6C678.3 487 690.8 487.9 700 488C709.2 488.1 716.7 487.2 720 487" fill="none" stroke="#6a1422" stroke-width="0.5" />
<path d="M455.5 426.3C458.8 426.9 469.6 428.2 475 430C480.4 431.8 484.5 434 488 437C491.5 440 495.1 443.2 496 448C496.9 452.8 496 460.5 493.5 466C491 471.5 486.2 477.4 481 481C475.8 484.6 465.2 486.4 462 487.5" fill="none" stroke="#6a1422" stroke-width="0.5" />
<path d="M699.5 426.3C696.2 426.9 685.4 428.2 680 430C674.6 431.8 670.5 434 667 437C663.5 440 659.9 443.2 659 448C658.1 452.8 659 460.5 661.5 466C664 471.5 668.8 477.4 674 481C679.2 484.6 689.8 486.4 693 487.5" fill="none" stroke="#6a1422" stroke-width="0.5" />
<rect x="503" y="444.2" width="149" height="6.6" fill="#aa2036" stroke="#5a1522" stroke-width="0.5" rx="1"/>
<rect x="504" y="447" width="147.5" height="3.6" fill="#5c1522" stroke="none" stroke-width="1" />
<rect x="576.3" y="432.5" width="3.1" height="35" fill="#861b2b" stroke="#4a101a" stroke-width="0.5" />
<path d="M532.8 438.2C532.8 437.6 534.8 436.6 537 436.3C539.2 436 543.8 436 546 436.3C548.2 436.6 550 437.6 550 438.2C550 438.8 548.2 439.7 546 440C543.8 440.3 539.2 440.3 537 440C534.8 439.7 532.8 438.8 532.8 438.2Z" fill="#f1eeee" stroke="#333" stroke-width="0.4" />
<path d="M539.5 437C539.8 437.4 540.8 439.4 541.5 439.4C542.2 439.4 543.2 437.4 543.5 437" fill="#333" stroke="#222" stroke-width="0.6" />
<path d="M572.6 468C573.5 467.9 576 467.2 577.7 467.2C579.4 467.2 582 467.9 582.9 468C582.8 468.8 583.2 471.3 582.3 473C581.4 474.7 578.5 477.5 577.7 478.4C577 477.5 574.1 474.7 573.2 473C572.4 471.3 572.7 468.8 572.6 468Z" fill="#17150f" stroke="#c9a24a" stroke-width="0.7" />
<path d="M575 471.2C575.2 470.5 576.8 469.8 577.7 469.8C578.6 469.8 580.2 470.5 580.4 471.2C580.6 471.9 579.4 473.7 578.8 474.2C578.2 474.7 577.2 474.7 576.6 474.2C576 473.7 574.8 471.9 575 471.2Z" fill="#c9a24a" stroke="none" stroke-width="0" />
<ellipse cx="459.8" cy="462.7" rx="23.4" ry="22.6" fill="#cfd2d5" stroke="#6a2a33" stroke-width="0.6"/>
<circle cx="463" cy="461.5" r="21" fill="#d7dadd" stroke="#3f4347" stroke-width="0.8" />
<circle cx="463" cy="461.5" r="19.2" fill="none" stroke="#6f7378" stroke-width="0.5" />
<circle cx="463" cy="461.5" r="17.3" fill="#fbfbfb" stroke="#3f4347" stroke-width="0.7" />
<polyline points="449.5,461.5 476.5,461.5" fill="none" stroke="#3a3d40" stroke-width="1.4" />
<polyline points="463,448 463,475" fill="none" stroke="#3a3d40" stroke-width="1.4" />
<circle cx="463" cy="461.5" r="6" fill="#fdfdfd" stroke="#3a3d40" stroke-width="0.8" />
<ellipse cx="695.1" cy="462.7" rx="23.4" ry="22.6" fill="#cfd2d5" stroke="#6a2a33" stroke-width="0.6"/>
<circle cx="691.9" cy="461.5" r="21" fill="#d7dadd" stroke="#3f4347" stroke-width="0.8" />
<circle cx="691.9" cy="461.5" r="19.2" fill="none" stroke="#6f7378" stroke-width="0.5" />
<circle cx="691.9" cy="461.5" r="17.3" fill="#fbfbfb" stroke="#3f4347" stroke-width="0.7" />
<polyline points="678.4,461.5 705.4,461.5" fill="none" stroke="#3a3d40" stroke-width="1.4" />
<polyline points="691.9,448 691.9,475" fill="none" stroke="#3a3d40" stroke-width="1.4" />
<circle cx="691.9" cy="461.5" r="6" fill="#fdfdfd" stroke="#3a3d40" stroke-width="0.8" />
<path d="M577.5 491.7C551.6 491.7 520.2 491.6 499.8 491.7C479.4 491.8 463.9 491.9 455 492.3C446.1 492.7 448.6 493.2 446.5 494.3C444.4 495.4 442.9 497.2 442.6 499C442.4 500.8 443.4 503.4 445 505C446.6 506.6 442.9 507.5 452 508.8C461.1 510.1 478.9 512.1 499.8 512.9C520.7 513.6 551.6 513.3 577.5 513.3C603.4 513.3 634.3 513.6 655.2 512.9C676.1 512.1 693.9 510.1 703 508.8C712.1 507.5 708.4 506.6 710 505C711.6 503.4 712.6 500.8 712.4 499C712.1 497.2 710.6 495.4 708.5 494.3C706.4 493.2 708.9 492.7 700 492.3C691.1 491.9 675.6 491.8 655.2 491.7C634.8 491.6 603.4 491.7 577.5 491.7Z" fill="#2f2f31" stroke="#3a0e16" stroke-width="0.6" />
<ellipse cx="452.5" cy="500.6" rx="8" ry="6.6" fill="#68696c" stroke="none" stroke-width="1"/>
<ellipse cx="702.5" cy="500.6" rx="8" ry="6.6" fill="#68696c" stroke="none" stroke-width="1"/>
<rect x="499.8" y="492.4" width="155.4" height="20.6" fill="#5d5d60" stroke="none" stroke-width="1" />
<rect x="499.8" y="492.4" width="155.4" height="20.6" fill="url(#mesh)"/>
<rect x="462.3" y="492.6" width="31.5" height="15.4" fill="#fafafa" stroke="#3b3d40" stroke-width="0.7" />
<rect x="464.3" y="494" width="26.9" height="13" fill="none" stroke="#c8c8c8" stroke-width="0.5" />
<circle cx="478.8" cy="500" r="1.9" fill="#fff" stroke="#555" stroke-width="0.6" />
<circle cx="454.3" cy="500.5" r="4.6" fill="#77797c" stroke="#2e2f31" stroke-width="0.6" />
<circle cx="454.3" cy="500.5" r="3.4" fill="#f0901c" stroke="#8a4a10" stroke-width="0.5" />
<circle cx="454.3" cy="500.5" r="1.2" fill="#f8b85c" stroke="none" stroke-width="1" />
<rect x="661.2" y="492.6" width="31.5" height="15.4" fill="#fafafa" stroke="#3b3d40" stroke-width="0.7" />
<rect x="661.8" y="494" width="26.9" height="13" fill="none" stroke="#c8c8c8" stroke-width="0.5" />
<circle cx="676.2" cy="500" r="1.9" fill="#fff" stroke="#555" stroke-width="0.6" />
<circle cx="700.7" cy="500.5" r="4.6" fill="#77797c" stroke="#2e2f31" stroke-width="0.6" />
<circle cx="700.7" cy="500.5" r="3.4" fill="#f0901c" stroke="#8a4a10" stroke-width="0.5" />
<circle cx="700.7" cy="500.5" r="1.2" fill="#f8b85c" stroke="none" stroke-width="1" />
<rect x="511" y="518.2" width="60.6" height="4" fill="#5b1320" stroke="#3a0e16" stroke-width="0.4" rx="1"/>
<rect x="583.4" y="518.2" width="60.6" height="4" fill="#5b1320" stroke="#3a0e16" stroke-width="0.4" rx="1"/>
<rect x="513" y="519" width="57" height="2.4" fill="#4c4d50" stroke="none" stroke-width="1" />
<rect x="585" y="519" width="57" height="2.4" fill="#4c4d50" stroke="none" stroke-width="1" />
<rect x="545.4" y="526.9" width="63" height="11.8" fill="#0e0e10" stroke="#777" stroke-width="0.5" />
<text x="557.6" y="537.3" font-size="12.2" fill="#fff" textLength="37.6" lengthAdjust="spacingAndGlyphs">71 SVJ</text>
<path d="M460 424.6C463.3 424.2 472.5 423 480 422.5C487.5 422 500.8 421.9 505 421.8" fill="none" stroke="#2c2e31" stroke-width="2.6" />
<path d="M505 424.8C507.5 424.9 515.9 425.3 520 425.6C524.1 425.9 527.8 425.7 529.5 426.4C531.2 427.1 530.3 429.4 530.5 430" fill="none" stroke="#d9d9d9" stroke-width="1.3" />
<path d="M505 424.8C507.5 424.9 515.9 425.3 520 425.6C524.1 425.9 527.8 425.7 529.5 426.4C531.2 427.1 530.3 429.4 530.5 430" fill="none" stroke="#555" stroke-width="0.3" />
<path d="M466 426.2C470 425.9 483.2 424.6 490 424.3C496.8 424 504.2 424.3 507 424.3" fill="none" stroke="#55585b" stroke-width="1.0" />
<path d="M538.4 422.2C543.7 422.1 559.1 421.2 570 421.5C580.9 421.8 598.3 423.4 604 423.8" fill="none" stroke="#2c2e31" stroke-width="2.6" />
<path d="M604 424.5C606.7 424.5 614.8 424.6 620 424.7C625.2 424.8 632.8 424.3 635.5 425C638.2 425.7 636.3 428.3 636.5 429" fill="none" stroke="#d9d9d9" stroke-width="1.3" />
<path d="M604 424.5C606.7 424.5 614.8 424.6 620 424.7C625.2 424.8 632.8 424.3 635.5 425C638.2 425.7 636.3 428.3 636.5 429" fill="none" stroke="#555" stroke-width="0.3" />
<path d="M545 424.6C550 424.4 564.8 423.5 575 423.6C585.2 423.7 600.8 424.8 606 425" fill="none" stroke="#55585b" stroke-width="1.0" />
</g>
<g id="labels">
<text x="39.3" y="147.9" font-size="17" font-style="italic" fill="#333" textLength="72" lengthAdjust="spacing">Version B</text>
<rect x="465.5" y="574.5" width="69" height="49" fill="#c9263f" stroke="#7a1525" stroke-width="1" />
<rect x="622.5" y="574.5" width="69" height="49" fill="#d4d6d8" stroke="#555" stroke-width="1" />
<rect x="465" y="640" width="137" height="1" fill="#3a3a3a" stroke="none" stroke-width="1" />
<rect x="622" y="640" width="138" height="1" fill="#3a3a3a" stroke="none" stroke-width="1" />
<text x="465" y="637" font-size="9.5" font-weight="bold" fill="#1c1c1c" textLength="38.6" lengthAdjust="spacingAndGlyphs">M<tspan font-size="7.500">ICA</tspan> R<tspan font-size="7.500">ED</tspan></text>
<text x="465" y="665" font-size="9.5" fill="#444" textLength="24" lengthAdjust="spacingAndGlyphs">T<tspan font-size="7.500">AMIYA</tspan></text>
<text x="492" y="665" font-size="10" font-weight="bold" fill="#1c1c1c" textLength="23" lengthAdjust="spacingAndGlyphs">TS39</text>
<text x="622" y="637" font-size="9.5" font-weight="bold" fill="#1c1c1c" textLength="87.4" lengthAdjust="spacingAndGlyphs">M<tspan font-size="7.500">ETAL</tspan> F<tspan font-size="7.500">LAT</tspan> A<tspan font-size="7.500">LUMINUM</tspan></text>
<text x="622" y="651.6" font-size="10" fill="#333" textLength="51.6" lengthAdjust="spacing">F.S. 37178</text>
<text x="622" y="665" font-size="9.5" fill="#444" textLength="75" lengthAdjust="spacingAndGlyphs">I<tspan font-size="7.500">TALERI</tspan> A<tspan font-size="7.500">CRYLIC</tspan>P<tspan font-size="7.500">AINT</tspan></text>
<text x="700" y="665" font-size="10" font-weight="bold" fill="#1c1c1c" textLength="24" lengthAdjust="spacingAndGlyphs">4677</text>
<text x="724.2" y="665" font-size="9.5" fill="#333" textLength="12.3" lengthAdjust="spacingAndGlyphs">AP</text>
</g>
</svg>
</body></html>
